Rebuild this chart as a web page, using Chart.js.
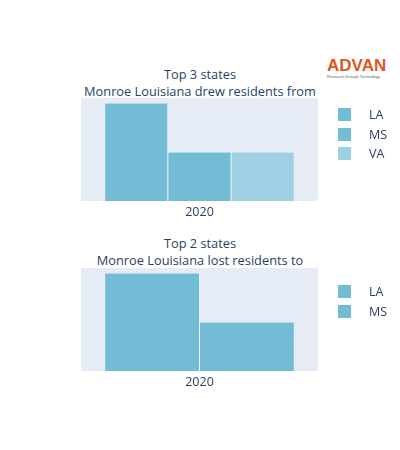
<!DOCTYPE html>
<html><head><meta charset="utf-8">
<script src="https://cdn.jsdelivr.net/npm/chart.js@4"></script>
<style>
body{margin:0;width:400px;height:450px;background:#fff;font-family:"Open Sans",sans-serif;color:#2a3f5f;position:relative;overflow:hidden}
.t{position:absolute;left:0;width:400px;text-align:center;font-size:12.8px;line-height:17px}
.cv{position:absolute;left:0;width:400px;height:156px}
.lg{position:absolute;left:338px;font-size:12.5px}
.lg div{height:19.5px;display:flex;align-items:center}
.lg span{display:inline-block;width:13px;height:13px;margin-right:18px}
.logo{position:absolute;left:327px;top:56px;color:#e0561f;font:bold 17px "Liberation Sans",sans-serif}
.logo small{display:block;font:normal 4px "Liberation Sans",sans-serif;color:#666;margin-top:-2px}
</style></head><body>
<div class="logo">ADVAN<small>Research through Technology</small></div>
<div class="t" style="top:66px">Top 3 states<br>Monroe Louisiana drew residents from</div>
<div class="cv" style="top:60px"><canvas id="c1"></canvas></div>
<div class="lg" id="lg1" style="top:105px"></div>
<div class="t" style="top:235px">Top 2 states<br>Monroe Louisiana lost residents to</div>
<div class="cv" style="top:230px"><canvas id="c2"></canvas></div>
<div class="lg" id="lg2" style="top:282px"></div>
<script>
const years = ['2020'];
const fromStates = ['LA', 'MS', 'VA'];
const fromValues = [2, 1, 1];
const fromColors = ['#72bcd5', '#72bcd5', '#9dd0e3'];
const toStates = ['LA', 'MS'];
const toValues = [2, 1];
const toColors = ['#72bcd5', '#72bcd5'];

const bgPlugin = {
    id: 'bg',
    beforeDraw(chart) {
        const a = chart.chartArea, ctx = chart.ctx;
        ctx.save();
        ctx.fillStyle = '#e5ecf6';
        ctx.fillRect(a.left, a.top, a.right - a.left, a.bottom - a.top);
        ctx.restore();
    }
};

function makeChart(id, legendId, states, values, colors, top) {
    new Chart(document.getElementById(id), {
        type: 'bar',
        data: {
            labels: years,
            datasets: states.map((s, i) => ({
                label: s,
                data: [values[i]],
                backgroundColor: colors[i],
                borderColor: '#ffffff',
                borderWidth: 0.5,
                barPercentage: 1,
                categoryPercentage: 0.8
            }))
        },
        options: {
            responsive: true,
            maintainAspectRatio: false,
            animation: false,
            layout: { padding: { left: 81, right: 82, top: top, bottom: 0 } },
            plugins: { legend: { display: false }, tooltip: { enabled: false } },
            scales: {
                x: {
                    grid: { display: false },
                    border: { display: false },
                    ticks: { padding: -4, color: '#2a3f5f', font: { family: 'Open Sans', size: 12.5 } }
                },
                y: {
                    display: false,
                    min: 0,
                    max: Math.max(...values) * 1.05
                }
            }
        },
        plugins: [bgPlugin]
    });
    document.getElementById(legendId).innerHTML = states.map((s, i) =>
        '<div><span style="background:' + colors[i] + '"></span>' + s + '</div>').join('');
}

makeChart('c1', 'lg1', fromStates, fromValues, fromColors, 38);
makeChart('c2', 'lg2', toStates, toValues, toColors, 38);
</script>
</body></html>
